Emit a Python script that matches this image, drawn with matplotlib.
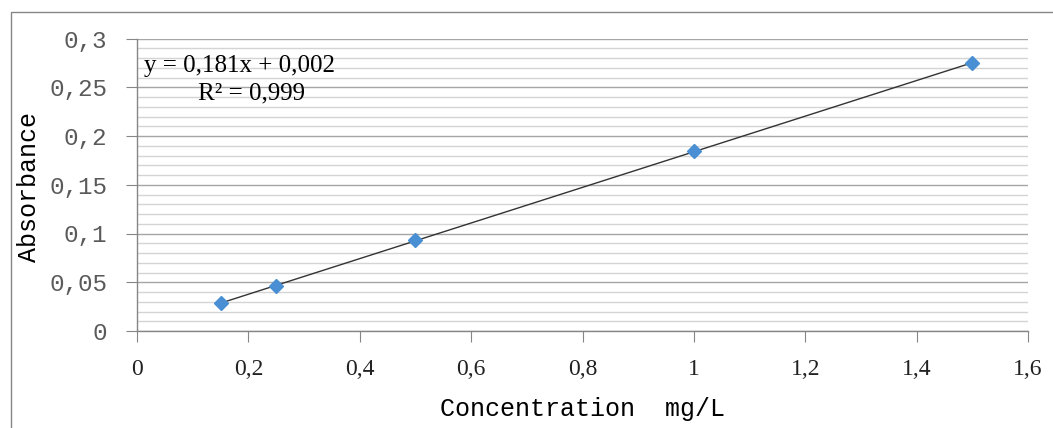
import numpy as np
import matplotlib
matplotlib.use("Agg")
import matplotlib.pyplot as plt
from matplotlib.patches import Rectangle
from matplotlib.ticker import MultipleLocator

conc = [0.15, 0.25, 0.5, 1.0, 1.5]
absorb = [0.0285, 0.0462, 0.093, 0.1846, 0.2746]
xticks = [0, 0.2, 0.4, 0.6, 0.8, 1.0, 1.2, 1.4, 1.6]
xticklabels = ["0", "0,2", "0,4", "0,6", "0,8", "1", "1,2", "1,4", "1,6"]
yticks = [0, 0.05, 0.1, 0.15, 0.2, 0.25, 0.3]
yticklabels = ["0", "0,05", "0,1", "0,15", "0,2", "0,25", "0,3"]
eq_text = "y = 0,181x + 0,002"
r2_text = "R² = 0,999"
xlabel = "Concentration  mg/L"
ylabel = "Absorbance"

W, H = 1053, 428
fig = plt.figure(figsize=(W / 100, H / 100), dpi=100)
fig.patch.set_facecolor("white")

# outer chart border
fig.patches.append(Rectangle((10.5 / W, -0.1), 1.2, 1 - 12 / H + 0.1,
                             transform=fig.transFigure, fill=False,
                             edgecolor="#868686", linewidth=1))

ax = fig.add_axes([137 / W, 1 - 331 / H, (1028 - 137) / W, (331 - 38.5) / H])
ax.set_xlim(0, 1.6)
ax.set_ylim(0, 0.3)

# gridlines
ax.yaxis.set_minor_locator(MultipleLocator(0.01))
ax.set_yticks(yticks)
ax.set_yticklabels(yticklabels, fontfamily="Liberation Mono", fontsize=17.5, color="#5a5a5a")
ax.grid(which="minor", axis="y", color="#d4d4d4", linewidth=1)
ax.grid(which="major", axis="y", color="#a6a6a6", linewidth=1)
ax.set_axisbelow(True)
ax.tick_params(axis="y", which="minor", length=0)
ax.tick_params(axis="y", which="major", length=8, color="#868686", pad=13.5)

ax.set_xticks(xticks)
ax.set_xticklabels(xticklabels, fontfamily="Liberation Serif", fontsize=17, color="#222222")
ax.tick_params(axis="x", which="major", length=8, color="#868686", pad=12)

for s in ["top", "right"]:
    ax.spines[s].set_visible(False)
for s in ["left", "bottom"]:
    ax.spines[s].set_color("#868686")
    ax.spines[s].set_linewidth(1)

# trendline
coef = np.polyfit(conc, absorb, 1)
xl = np.array([min(conc), max(conc)])
ax.plot(xl, np.polyval(coef, xl), color="#333333", linewidth=1, zorder=3)
ax.plot(conc, absorb, linestyle="none", marker="D", markersize=7,
        color="#4a8fd4", markeredgecolor="#4a8fd4", zorder=4)

fig.text(144 / W, 1 - 72 / H, eq_text, fontfamily="Liberation Serif",
         fontsize=18, color="black", ha="left", va="baseline")
fig.text(251 / W, 1 - 99 / H, r2_text, fontfamily="Liberation Serif",
         fontsize=18, color="black", ha="center", va="baseline")

fig.text(29 / W, 1 - 187 / H, ylabel, fontfamily="Liberation Mono", fontsize=18,
         rotation=90, ha="center", va="center", color="black")
fig.text(583 / W, 1 - 409 / H, xlabel, fontfamily="Liberation Mono", fontsize=18,
         ha="center", va="center", color="black")

fig.savefig("out.png", dpi=100)
